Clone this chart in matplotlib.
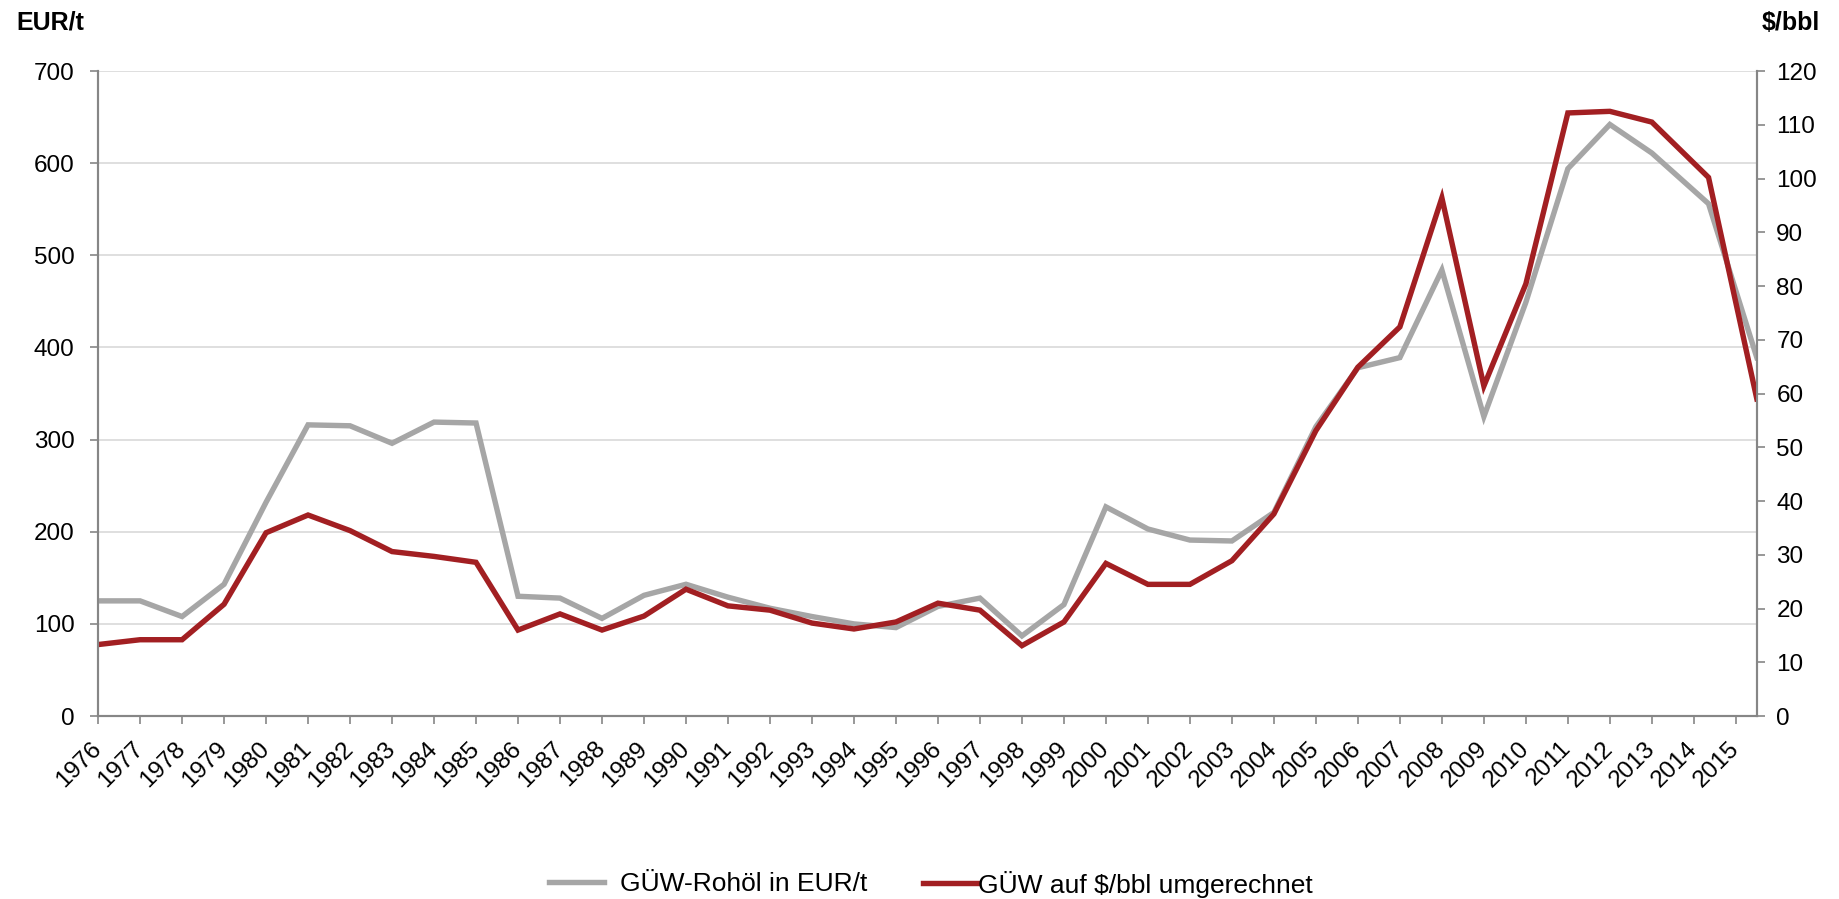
import matplotlib.pyplot as plt

plt.rcParams['font.family'] = ['Liberation Sans', 'DejaVu Sans']

years = list(range(1976, 2016))
# x position of each data point in years (last two points sit off the ticks in the original)
year_pos = list(range(1976, 2014)) + [2014.35, 2015.5]

eur_t = [125, 125, 108, 143, 232, 316, 315, 296, 319, 318,
         130, 128, 106, 131, 143, 129, 117, 108, 100, 96,
         119, 128, 87, 121, 227, 203, 191, 190, 221, 314,
         378, 389, 484, 325, 449, 594, 642, 611, 556, 389]

usd_bbl = [13.3, 14.2, 14.2, 20.8, 34.1, 37.4, 34.5, 30.6, 29.7, 28.6,
           16.0, 19.0, 16.0, 18.6, 23.6, 20.5, 19.7, 17.3, 16.2, 17.5,
           21.0, 19.7, 13.1, 17.5, 28.4, 24.5, 24.5, 28.9, 37.6, 53.1,
           64.9, 72.4, 96.4, 61.4, 80.4, 112.2, 112.5, 110.5, 100.2, 59.0]

gray = '#A6A6A6'
red = '#A21F22'
axis_col = '#868686'

fig = plt.figure(figsize=(18.4, 8.99), dpi=100)
ax = fig.add_axes([0.0533, 0.2035, 0.9015, 0.7175])
ax2 = ax.twinx()

l1, = ax.plot(year_pos, eur_t, color=gray, lw=3.9, solid_joinstyle='miter', label='GÜW-Rohöl in EUR/t')
l2, = ax2.plot(year_pos, usd_bbl, color=red, lw=3.9, solid_joinstyle='miter', label='GÜW auf $/bbl umgerechnet')

ax.set_xlim(1976, 2015.5)
ax.set_ylim(0, 700)
ax2.set_ylim(0, 120)
ax.set_yticks(range(0, 701, 100))
ax2.set_yticks(range(0, 121, 10))
ax.set_xticks(years)
ax.set_xticklabels([str(y) for y in years], rotation=45, ha='right', va='center',
                   rotation_mode='anchor', fontsize=17.5)

ax.grid(axis='y', color='#D9D9D9', lw=1.2)
ax.set_axisbelow(True)

for a in (ax, ax2):
    a.spines['top'].set_visible(False)
    for s in ('left', 'right', 'bottom'):
        a.spines[s].set_color(axis_col)
        a.spines[s].set_linewidth(1.5)
    a.tick_params(colors=axis_col, labelcolor='black', labelsize=17.5, length=6, width=1.2)
ax.tick_params(axis='x', pad=15)
ax.tick_params(axis='y', pad=11)
ax2.tick_params(axis='y', pad=8)

fig.text(0.0087, 0.9755, 'EUR/t', fontsize=18, fontweight='bold', va='center', ha='left')
fig.text(0.989, 0.974, '$/bbl', fontsize=18, fontweight='bold', va='center', ha='right')

# two separate legend entries, spaced like the original
fig.legend(handles=[l1], loc='center left', bbox_to_anchor=(0.2984, 0.0165),
           frameon=False, fontsize=19, handlelength=2.08, handletextpad=0.6,
           borderpad=0, borderaxespad=0)
fig.legend(handles=[l2], loc='center left', bbox_to_anchor=(0.5016, 0.0165),
           frameon=False, fontsize=19, handlelength=2.05, handletextpad=0.05,
           borderpad=0, borderaxespad=0)

fig.savefig('out.png', dpi=100)
